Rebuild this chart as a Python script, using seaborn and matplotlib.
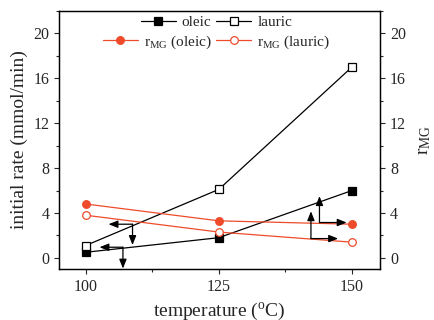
import matplotlib
matplotlib.use("Agg")
import matplotlib.pyplot as plt
import seaborn as sns
import pandas as pd
from matplotlib.ticker import MultipleLocator
from matplotlib.lines import Line2D

temperature = [100, 125, 150]
oleic = [0.5, 1.8, 6.0]
lauric = [1.1, 6.1, 17.0]
rmg_oleic = [4.8, 3.3, 3.0]
rmg_lauric = [3.8, 2.3, 1.4]

# annotation arrows: (tail_x, tail_y, head_x, head_y)
arrows = [
    (108.8, 3.0, 104.3, 3.0), (108.8, 3.0, 108.8, 1.15),
    (107.0, 0.95, 102.6, 0.95), (107.0, 0.95, 107.0, -0.95),
    (143.9, 3.15, 143.9, 5.5), (143.9, 3.15, 149.0, 3.15),
    (142.3, 1.72, 142.3, 4.15), (142.3, 1.72, 147.4, 1.72),
]

sns.set_style("ticks")
plt.rcParams['font.family'] = ['Liberation Serif', 'DejaVu Serif']
plt.rcParams['mathtext.fontset'] = 'custom'
plt.rcParams['mathtext.rm'] = 'Liberation Serif'

red = '#EE4B2B'
df = pd.DataFrame({'T': temperature, 'oleic': oleic, 'lauric': lauric,
                   'rmg_oleic': rmg_oleic, 'rmg_lauric': rmg_lauric})

fig = plt.figure(figsize=(4.34, 3.2), dpi=100)
ax = fig.add_axes([0.136, 0.159, 0.740, 0.807])

kw = dict(linewidth=0.9, markersize=5.5, markeredgewidth=0.9)
sns.lineplot(data=df, x='T', y='oleic', ax=ax, color='black', marker='s',
             markerfacecolor='black', markeredgecolor='black', **kw)
sns.lineplot(data=df, x='T', y='lauric', ax=ax, color='black', marker='s',
             markerfacecolor='white', markeredgecolor='black', **kw)
sns.lineplot(data=df, x='T', y='rmg_oleic', ax=ax, color=red, marker='o',
             markerfacecolor=red, markeredgecolor=red, **kw)
sns.lineplot(data=df, x='T', y='rmg_lauric', ax=ax, color=red, marker='o',
             markerfacecolor='white', markeredgecolor=red, **kw)

for tx, ty, hx, hy in arrows:
    ax.annotate('', xy=(hx, hy), xytext=(tx, ty),
                arrowprops=dict(arrowstyle='-|>,head_length=0.55,head_width=0.22',
                                color='black', lw=0.9, shrinkA=0, shrinkB=0))

ax.set_xlim(95, 155.3)
ax.set_ylim(-1, 22)
ax.set_xticks([100, 125, 150])
ax.xaxis.set_minor_locator(MultipleLocator(12.5))
ax.set_yticks([0, 4, 8, 12, 16, 20])
ax.yaxis.set_minor_locator(MultipleLocator(2))
ax.tick_params(axis='both', which='major', labelsize=11.5, length=3.5, width=0.8, direction='out')
ax.tick_params(axis='both', which='minor', length=2, width=0.8, direction='out')
ax.set_xlabel(r'temperature ($\mathregular{^o}$C)', fontsize=14, labelpad=4)
ax.set_ylabel('initial rate (mmol/min)', fontsize=14, labelpad=4)

ax2 = ax.twinx()
ax2.set_ylim(-1, 22)
ax2.set_yticks([0, 4, 8, 12, 16, 20])
ax2.yaxis.set_minor_locator(MultipleLocator(2))
ax2.tick_params(axis='y', which='major', labelsize=11.5, length=3.5, width=0.8, direction='out')
ax2.tick_params(axis='y', which='minor', length=2, width=0.8, direction='out')
ax2.set_ylabel(r'$\mathregular{r_{MG}}$', fontsize=14, labelpad=7)

for a in (ax, ax2):
    for s in a.spines.values():
        s.set_linewidth(0.9)
        s.set_color('black')
        s.set_visible(True)

h_oleic = Line2D([], [], color='black', marker='s', markerfacecolor='black', **kw)
h_lauric = Line2D([], [], color='black', marker='s', markerfacecolor='white', **kw)
h_ro = Line2D([], [], color=red, marker='o', markerfacecolor=red, markeredgecolor=red, **kw)
h_rl = Line2D([], [], color=red, marker='o', markerfacecolor='white', markeredgecolor=red, **kw)

leg1 = ax.legend([h_oleic, h_lauric], ['oleic', 'lauric'], ncol=2, frameon=False,
                 loc='upper center', bbox_to_anchor=(0.49, 1.012), fontsize=11,
                 handlelength=2.3, handletextpad=0.4, columnspacing=0.3, borderpad=0)
ax.add_artist(leg1)
ax.legend([h_ro, h_rl], [r'$\mathregular{r_{MG}}$ (oleic)', r'$\mathregular{r_{MG}}$ (lauric)'],
          ncol=2, frameon=False, loc='upper center', bbox_to_anchor=(0.49, 0.942),
          fontsize=11, handlelength=2.3, handletextpad=0.4, columnspacing=0.3, borderpad=0)

fig.savefig('out.png', dpi=100)
